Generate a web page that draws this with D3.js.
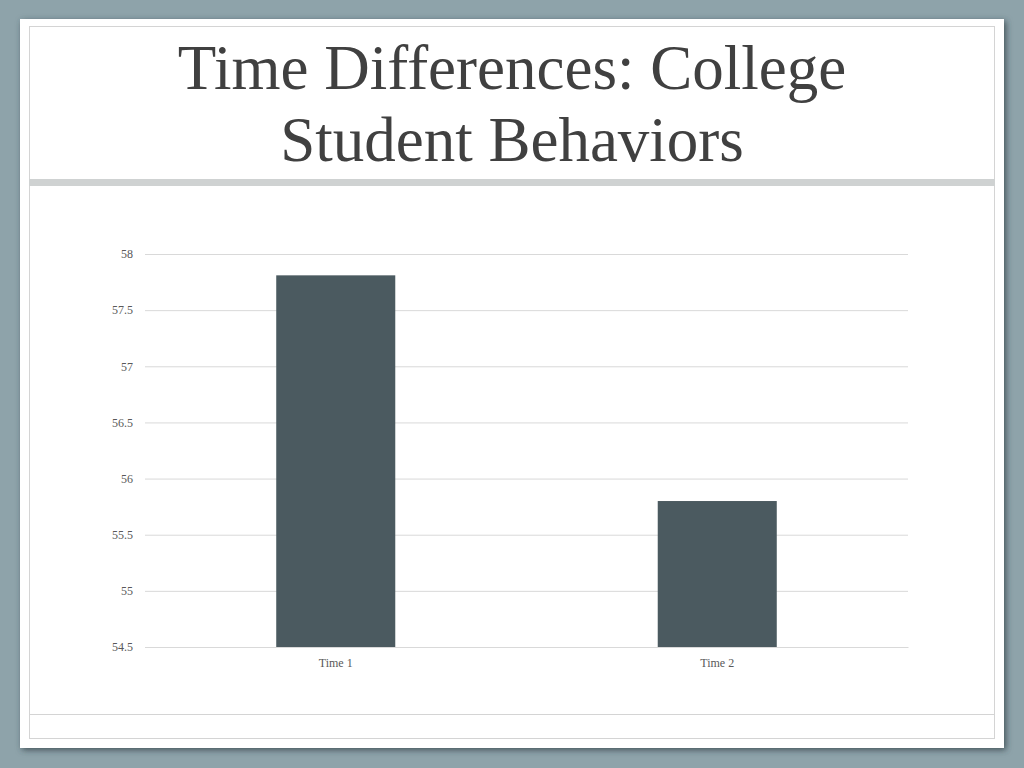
<!DOCTYPE html>
<html>
<head>
<meta charset="utf-8">
<script src="https://cdn.jsdelivr.net/npm/d3@7"></script>
<style>
  html, body { margin: 0; padding: 0; background: #8ea3aa; }
  svg { display: block; }
</style>
</head>
<body>
<div id="chart"></div>
<script>
  const TITLE_LINES = ["Time Differences: College", "Student Behaviors"];
  const CATEGORIES = ["Time 1", "Time 2"];
  const VALUES = [57.81, 55.8];
  const Y_TICKS = [54.5, 55, 55.5, 56, 56.5, 57, 57.5, 58];

  const W = 1024, H = 768;
  const svg = d3.select("#chart").append("svg").attr("width", W).attr("height", H);

  // slide background + shadowed white panel
  const defs = svg.append("defs");
  const f = defs.append("filter").attr("id", "shadow").attr("x", "-5%").attr("y", "-5%").attr("width", "110%").attr("height", "110%");
  f.append("feDropShadow").attr("dx", 2).attr("dy", 2).attr("stdDeviation", 3).attr("flood-color", "#2f3f45").attr("flood-opacity", 0.8);

  svg.append("rect").attr("width", W).attr("height", H).attr("fill", "#8ea3aa");
  svg.append("rect").attr("x", 20).attr("y", 19).attr("width", 984).attr("height", 729)
    .attr("fill", "#fff").attr("filter", "url(#shadow)");
  svg.append("rect").attr("x", 29.5).attr("y", 26.5).attr("width", 965).attr("height", 712)
    .attr("fill", "none").attr("stroke", "#d4d4d4").attr("stroke-width", 1);
  svg.append("rect").attr("x", 29).attr("y", 179).attr("width", 966).attr("height", 7).attr("fill", "#cfd2d2");
  svg.append("line").attr("x1", 29).attr("x2", 995).attr("y1", 714.5).attr("y2", 714.5)
    .attr("stroke", "#d4d4d4");

  // title
  svg.append("g").selectAll("text").data(TITLE_LINES).join("text")
    .attr("x", 512).attr("y", (d, i) => 89 + i * 72)
    .attr("text-anchor", "middle")
    .attr("font-family", "'Liberation Serif', 'DejaVu Serif', serif")
    .attr("font-size", 63).attr("fill", "#404040")
    .text((d) => d);

  // chart
  const plot = { left: 145, right: 908, top: 254, bottom: 647 };
  const x = d3.scaleBand().domain(CATEGORIES).range([plot.left, plot.right])
    .paddingInner(0.688).paddingOuter(0.344);
  const y = d3.scaleLinear().domain([54.5, 58]).range([plot.bottom, plot.top]);

  const yAxis = svg.append("g").attr("transform", `translate(${plot.left},0)`)
    .call(d3.axisLeft(y).tickValues(Y_TICKS).tickSize(-(plot.right - plot.left)).tickPadding(12).tickFormat(d3.format("")));
  yAxis.select(".domain").remove();
  yAxis.selectAll(".tick line").attr("stroke", "#d9d9d9");
  yAxis.selectAll(".tick text").attr("fill", "#595959")
    .attr("font-family", "'Liberation Serif', serif").attr("font-size", 12);

  svg.append("g").selectAll("rect").data(VALUES).join("rect")
    .attr("x", (d, i) => x(CATEGORIES[i]))
    .attr("width", x.bandwidth())
    .attr("y", (d) => y(d))
    .attr("height", (d) => y(54.5) - y(d))
    .attr("fill", "#4b5a60");

  const xAxis = svg.append("g").attr("transform", `translate(0,${plot.bottom})`)
    .call(d3.axisBottom(x).tickSize(0).tickPadding(11));
  xAxis.select(".domain").attr("stroke", "#d9d9d9");
  xAxis.selectAll(".tick text").attr("fill", "#595959")
    .attr("font-family", "'Liberation Serif', serif").attr("font-size", 12);
</script>
</body>
</html>
